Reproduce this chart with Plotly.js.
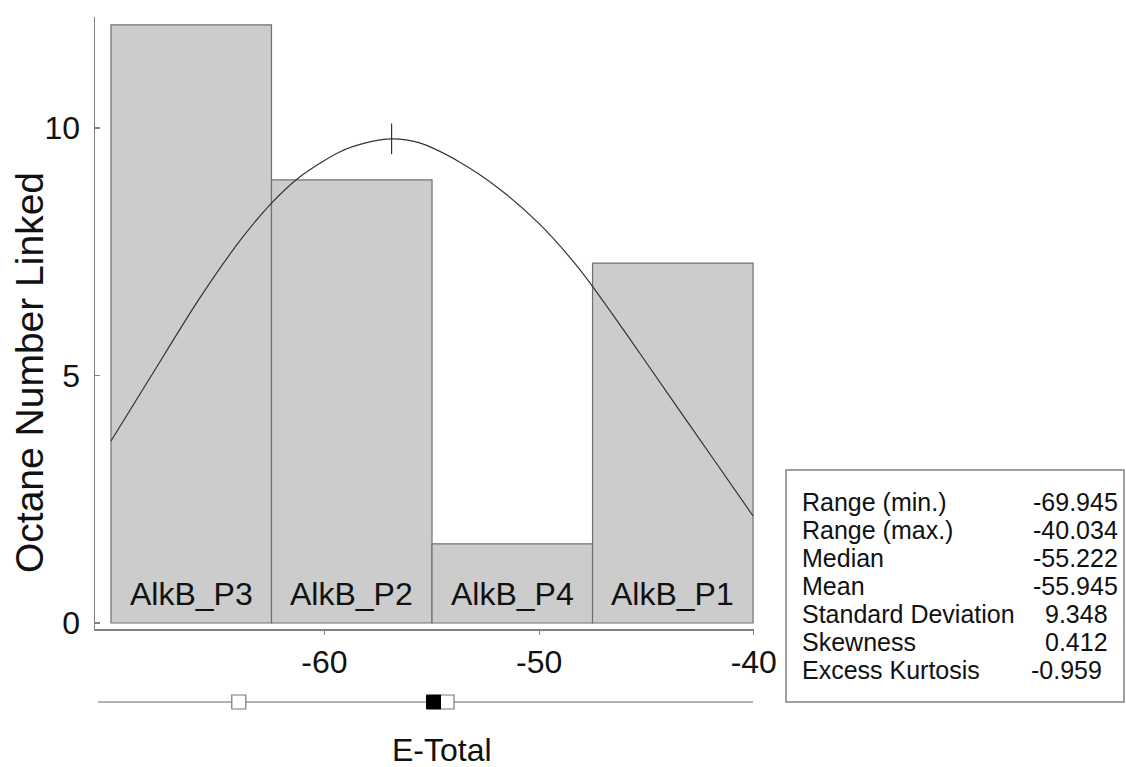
<!DOCTYPE html>
<html><head><meta charset="utf-8">
<script src="https://cdn.plot.ly/plotly-3.0.1.min.js"></script>
<style>html,body{margin:0;padding:0;background:#fff}#chart{width:1126px;height:767px}</style>
</head><body><div id="chart"></div>
<script>
// ---- data ----
const categories = ['AlkB_P3', 'AlkB_P2', 'AlkB_P4', 'AlkB_P1'];
const binStart = [-69.945, -62.467, -54.989, -47.511];
const binWidth = 7.478;
const counts = [12.08, 8.95, 1.6, 7.27];

const curveX = [-69.945, -68.131, -65.805, -63.944, -62.456, -61.153, -59.292, -58.083, -56.873, -55.571, -53.710, -51.849, -49.989, -48.128, -46.035, -43.802, -41.848, -40.034];
const curveY = [3.677, 4.949, 6.566, 7.717, 8.485, 9.010, 9.515, 9.697, 9.778, 9.697, 9.313, 8.768, 8.061, 7.152, 5.899, 4.505, 3.293, 2.162];
const peakX = [-56.873];
const peakY = [9.778];

const boxLineX = [-70.55, -40.034];
const boxWhiteX = [-63.99, -54.29];
const boxBlackX = [-54.92];

const statLabels = ['Range (min.)', 'Range (max.)', 'Median', 'Mean', 'Standard Deviation', 'Skewness', 'Excess Kurtosis'];
const statValues = ['-69.945', '-40.034', '-55.222', '-55.945', '9.348', '0.412', '-0.959'];

const xTickVals = [-60, -50, -40];
const xTickText = ['-60', '-50', '-40'];
const yTickVals = [0, 5, 10];
const yTickText = ['0', '5', '10'];

// ---- layout helpers (pixel geometry) ----
const W = 1126, H = 767;
const mL = 95, mR = 372, mT = 17, mB = 52;
const plotW = W - mL - mR, plotH = H - mT - mB;
const px = p => (p - mL) / plotW;
const py = p => (H - mB - p) / plotH;

const FONT = 'Liberation Sans, Arial, Helvetica, sans-serif';
const binCenters = binStart.map(s => s + binWidth / 2);

const traces = [
  {
    type: 'bar', x: binCenters, y: counts, width: binWidth,
    marker: {color: '#cccccc', line: {color: '#707070', width: 1.2}},
    xaxis: 'x', yaxis: 'y', hoverinfo: 'skip', showlegend: false
  },
  {
    type: 'scatter', mode: 'lines', x: curveX, y: curveY,
    line: {color: '#333333', width: 1.2, shape: 'spline', smoothing: 0.8},
    xaxis: 'x', yaxis: 'y', hoverinfo: 'skip', showlegend: false
  },
  {
    type: 'scatter', mode: 'markers', x: peakX, y: peakY,
    marker: {symbol: 'line-ns-open', size: 22, color: '#333333', line: {color: '#333333', width: 1.2}},
    xaxis: 'x', yaxis: 'y', hoverinfo: 'skip', showlegend: false
  },
  {
    type: 'scatter', mode: 'lines', x: boxLineX, y: boxLineX.map(() => 0),
    line: {color: '#999999', width: 1.5},
    xaxis: 'x', yaxis: 'y2', hoverinfo: 'skip', showlegend: false, cliponaxis: false
  },
  {
    type: 'scatter', mode: 'markers', x: boxWhiteX, y: boxWhiteX.map(() => 0),
    marker: {symbol: 'square', size: 14, color: '#ffffff', line: {color: '#777777', width: 1.2}},
    xaxis: 'x', yaxis: 'y2', hoverinfo: 'skip', showlegend: false, cliponaxis: false
  },
  {
    type: 'scatter', mode: 'markers', x: boxBlackX, y: boxBlackX.map(() => 0),
    marker: {symbol: 'square', size: 14, color: '#000000', line: {color: '#000000', width: 1}},
    xaxis: 'x', yaxis: 'y2', hoverinfo: 'skip', showlegend: false, cliponaxis: false
  }
];

const annotations = [];
categories.forEach((c, i) => {
  annotations.push({
    text: c, x: binCenters[i], y: 0, xref: 'x', yref: 'y',
    xanchor: 'center', yanchor: 'bottom', yshift: 9, showarrow: false,
    font: {family: FONT, size: 32, color: '#111'}
  });
});
// axis titles
annotations.push({
  text: 'Octane Number Linked', textangle: -90, xref: 'paper', yref: 'paper',
  x: px(29), y: py(373), xanchor: 'center', yanchor: 'middle', showarrow: false,
  font: {family: FONT, size: 39, color: '#111'}
});
annotations.push({
  text: 'E-Total', xref: 'paper', yref: 'paper',
  x: px(442), y: py(750), xanchor: 'center', yanchor: 'middle', showarrow: false,
  font: {family: FONT, size: 32, color: '#111'}
});
// stats box text
const statRowY = [502, 530, 558, 586, 614, 642, 670];
const statValX = [1075, 1075, 1075, 1075, 1076, 1076, 1066];
statLabels.forEach((s, i) => {
  annotations.push({
    text: s, xref: 'paper', yref: 'paper', x: px(800), y: py(statRowY[i]),
    xanchor: 'left', yanchor: 'middle', showarrow: false,
    font: {family: FONT, size: 25, color: '#111'}
  });
  annotations.push({
    text: statValues[i], xref: 'paper', yref: 'paper', x: px(statValX[i]), y: py(statRowY[i]),
    xanchor: 'center', yanchor: 'middle', showarrow: false,
    font: {family: FONT, size: 25, color: '#111'}
  });
});

const layout = {
  width: W, height: H,
  margin: {l: mL, r: mR, t: mT, b: mB, pad: 0},
  paper_bgcolor: '#ffffff', plot_bgcolor: '#ffffff',
  showlegend: false,
  font: {family: FONT, color: '#111'},
  bargap: 0,
  xaxis: {
    range: [-70.689, -39.99], anchor: 'y',
    showgrid: false, zeroline: false,
    showline: true, linecolor: '#808080', linewidth: 1.5,
    ticks: 'outside', ticklen: 4, tickcolor: '#808080', tickwidth: 1.2,
    tickmode: 'array', tickvals: xTickVals, ticktext: xTickText,
    tickfont: {family: FONT, size: 32, color: '#111'},
    ticklabelstandoff: 0
  },
  yaxis: {
    range: [-0.121, 12.24], domain: [py(629), 1], anchor: 'x',
    showgrid: false, zeroline: false,
    showline: true, linecolor: '#808080', linewidth: 1.5,
    ticks: 'inside', ticklen: 5, tickcolor: '#808080', tickwidth: 1.2,
    tickmode: 'array', tickvals: yTickVals, ticktext: yTickText,
    tickfont: {family: FONT, size: 32, color: '#111'},
    ticklabelstandoff: 7
  },
  yaxis2: {
    range: [-1, 1], domain: [0, py(689)], anchor: 'x',
    visible: false, showgrid: false, zeroline: false
  },
  shapes: [{
    type: 'rect', xref: 'paper', yref: 'paper',
    x0: px(786), x1: px(1124), y0: py(702), y1: py(470),
    line: {color: '#808080', width: 1.5}, fillcolor: 'rgba(0,0,0,0)'
  }],
  annotations: annotations
};

Plotly.newPlot('chart', traces, layout, {displayModeBar: false, staticPlot: true});
</script>
</body></html>
